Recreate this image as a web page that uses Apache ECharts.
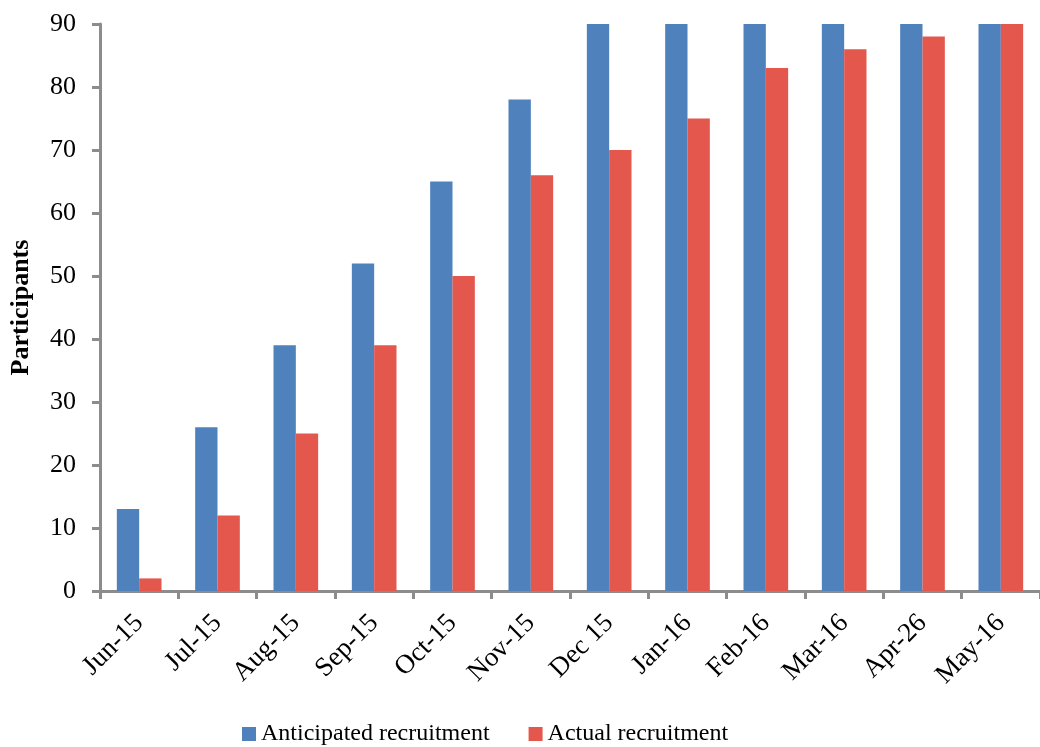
<!DOCTYPE html>
<html>
<head>
<meta charset="utf-8">
<script src="https://cdn.jsdelivr.net/npm/echarts@6/dist/echarts.min.js"></script>
<style>
  html, body { margin: 0; padding: 0; background: #fff; }
  #chart { width: 1040px; height: 747px; }
</style>
</head>
<body>
<div id="chart"></div>
<script>
// Monthly recruitment, planned vs. achieved
const months = ['Jun-15', 'Jul-15', 'Aug-15', 'Sep-15', 'Oct-15', 'Nov-15', 'Dec 15', 'Jan-16', 'Feb-16', 'Mar-16', 'Apr-26', 'May-16'];
const anticipated = [13, 26, 39, 52, 65, 78, 90, 90, 90, 90, 90, 90];
const actual = [2, 12, 25, 39, 50, 66, 70, 75, 83, 86, 88, 90];

const serif = '"Liberation Serif", "DejaVu Serif", serif';
const axisGray = '#8c8c8c';

const chart = echarts.init(document.getElementById('chart'));
chart.setOption({
  animation: false,
  textStyle: { fontFamily: serif, color: '#000' },
  grid: { left: 99, right: -8, top: 24, bottom: 156, containLabel: false },
  legend: {
    top: 717,
    left: 237,
    itemWidth: 14,
    itemHeight: 14,
    itemGap: 39,
    icon: 'rect',
    textStyle: { fontFamily: serif, fontSize: 24, color: '#000' },
    data: ['Anticipated recruitment', 'Actual recruitment']
  },
  xAxis: {
    type: 'category',
    data: months,
    axisLine: { lineStyle: { color: axisGray, width: 3 } },
    axisTick: { show: true, length: 8, lineStyle: { color: axisGray, width: 3 } },
    axisLabel: { rotate: 45, fontSize: 27, color: '#000', fontFamily: serif, margin: 28 }
  },
  yAxis: {
    type: 'value',
    min: 0,
    max: 90,
    interval: 10,
    name: 'Participants',
    nameLocation: 'middle',
    nameGap: 66,
    nameTextStyle: { fontFamily: serif, fontSize: 26, fontWeight: 'bold', color: '#000' },
    axisLine: { show: true, lineStyle: { color: axisGray, width: 3 } },
    axisTick: { show: true, length: 8, lineStyle: { color: axisGray, width: 3 } },
    splitLine: { show: false },
    axisLabel: { fontSize: 26, color: '#000', fontFamily: serif, margin: 24 }
  },
  series: [
    {
      name: 'Anticipated recruitment',
      type: 'bar',
      data: anticipated,
      barGap: '0%',
      barCategoryGap: '43%',
      itemStyle: { color: '#4F81BD' }
    },
    {
      name: 'Actual recruitment',
      type: 'bar',
      data: actual,
      itemStyle: { color: '#E4574C' }
    }
  ]
});
</script>
</body>
</html>
